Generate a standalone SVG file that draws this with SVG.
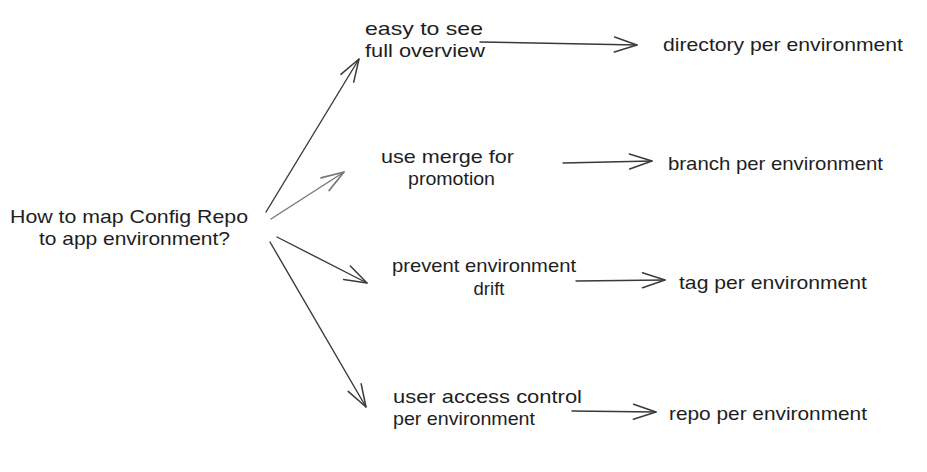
<svg xmlns="http://www.w3.org/2000/svg" width="927" height="472" viewBox="0 0 927 472">
<style>
text{font-family:"Liberation Sans","DejaVu Sans",sans-serif;font-size:18.5px;fill:#1e1e1e}
.c{fill:none;stroke:#3a3a3a;stroke-width:1.4;stroke-linecap:round}
.l{stroke:#777}
</style>
<defs>
<marker id="ah" markerUnits="userSpaceOnUse" markerWidth="30" markerHeight="30" viewBox="-24 -12 28 24" refX="0" refY="0" orient="auto">
<path d="M-21,-7 L0,0 L-21,7" fill="none" stroke="#3a3a3a" stroke-width="1.4" stroke-linecap="round" stroke-linejoin="round"/>
</marker>
<marker id="ahl" markerUnits="userSpaceOnUse" markerWidth="30" markerHeight="30" viewBox="-24 -12 28 24" refX="0" refY="0" orient="auto">
<path d="M-21,-7 L0,0 L-21,7" fill="none" stroke="#777" stroke-width="1.6" stroke-linecap="round" stroke-linejoin="round"/>
</marker>
</defs>
<rect width="927" height="472" fill="#fff"/>
<g id="connectors">
<path class="c" d="M266,212 L359,59" marker-end="url(#ah)"/>
<path class="c l" stroke-width="2" d="M271,219 L344,172" marker-end="url(#ahl)"/>
<path class="c" d="M277,237 L367,283" marker-end="url(#ah)"/>
<path class="c" d="M270,242 L366,407" marker-end="url(#ah)"/>
<path class="c" d="M480,42 L637,45" marker-end="url(#ah)"/>
<path class="c" d="M563,163 L652,161" marker-end="url(#ah)"/>
<path class="c" d="M576,281 L665,280" marker-end="url(#ah)"/>
<path class="c" d="M572,411 L656,412" marker-end="url(#ah)"/>
</g>
<g id="root">
<text x="10" y="223" textLength="238" lengthAdjust="spacingAndGlyphs">How to map Config Repo</text>
<text x="39" y="245" textLength="191" lengthAdjust="spacingAndGlyphs">to app environment?</text>
</g>
<g id="easy-overview">
<text x="365" y="35" textLength="118" lengthAdjust="spacingAndGlyphs">easy to see</text>
<text x="365" y="57" textLength="120" lengthAdjust="spacingAndGlyphs">full overview</text>
</g>
<g id="merge-promotion">
<text x="381" y="163" textLength="133" lengthAdjust="spacingAndGlyphs">use merge for</text>
<text x="408" y="185" textLength="87" lengthAdjust="spacingAndGlyphs">promotion</text>
</g>
<g id="prevent-drift">
<text x="392" y="272" textLength="184" lengthAdjust="spacingAndGlyphs">prevent environment</text>
<text x="489" y="295" text-anchor="middle">drift</text>
</g>
<g id="access-control">
<text x="393" y="403" textLength="189" lengthAdjust="spacingAndGlyphs">user access control</text>
<text x="393" y="425" textLength="142" lengthAdjust="spacingAndGlyphs">per environment</text>
</g>
<g id="directory">
<text x="663" y="51" textLength="240" lengthAdjust="spacingAndGlyphs">directory per environment</text>
</g>
<g id="branch">
<text x="668" y="170" textLength="215" lengthAdjust="spacingAndGlyphs">branch per environment</text>
</g>
<g id="tag">
<text x="679" y="289" textLength="188" lengthAdjust="spacingAndGlyphs">tag per environment</text>
</g>
<g id="repo">
<text x="669" y="420" textLength="198" lengthAdjust="spacingAndGlyphs">repo per environment</text>
</g>
</svg>
